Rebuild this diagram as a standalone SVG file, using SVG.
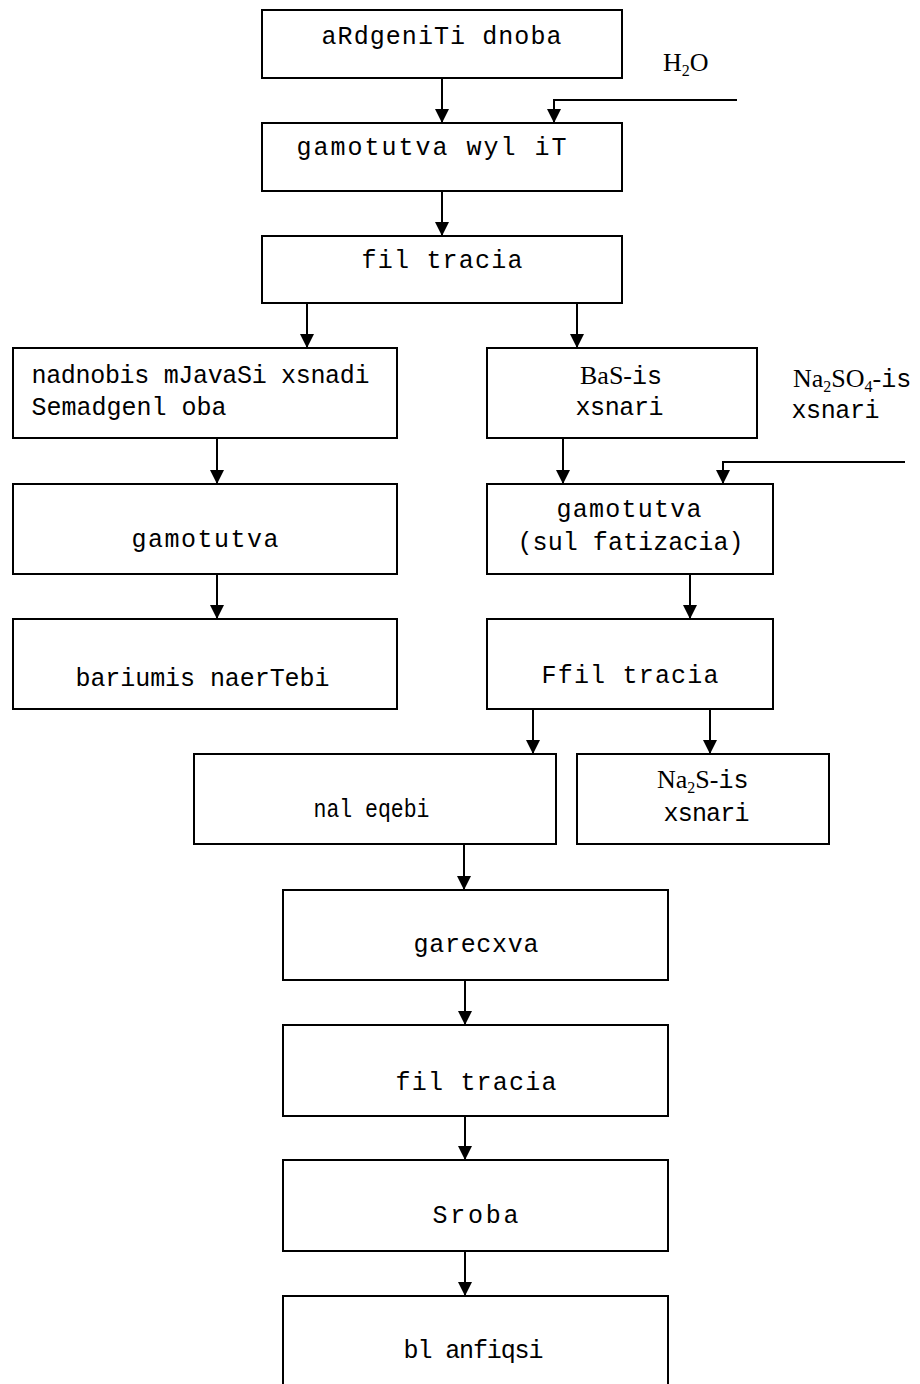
<svg xmlns="http://www.w3.org/2000/svg" width="920" height="1384" viewBox="0 0 920 1384">
<style>
.box{fill:#fff;stroke:#000;stroke-width:2}
.t{font-family:"Liberation Mono","DejaVu Sans Mono",monospace;font-size:25px;fill:#000}
.s{font-family:"Liberation Serif","Times New Roman",serif;font-size:26px;fill:#000}
.sub{font-size:16px}
.m{font-family:"Liberation Mono","DejaVu Sans Mono",monospace;font-size:25px}
.c{fill:none;stroke:#000;stroke-width:2}
</style>
<defs>
<marker id="ah" markerUnits="userSpaceOnUse" markerWidth="14" markerHeight="14" refX="14" refY="7" orient="auto">
<path d="M0,0 L14,7 L0,14 z" fill="#000"/>
</marker>
</defs>
<rect width="920" height="1384" fill="#fff"/>
<g id="connectors">
<line class="c" x1="442" y1="78" x2="442" y2="123" marker-end="url(#ah)"/>
<polyline class="c" points="737,100 554,100 554,123" marker-end="url(#ah)"/>
<line class="c" x1="442" y1="191" x2="442" y2="236" marker-end="url(#ah)"/>
<line class="c" x1="307" y1="303" x2="307" y2="348" marker-end="url(#ah)"/>
<line class="c" x1="577" y1="303" x2="577" y2="348" marker-end="url(#ah)"/>
<line class="c" x1="217" y1="438" x2="217" y2="484" marker-end="url(#ah)"/>
<line class="c" x1="563" y1="438" x2="563" y2="484" marker-end="url(#ah)"/>
<polyline class="c" points="905,462 723,462 723,484" marker-end="url(#ah)"/>
<line class="c" x1="217" y1="574" x2="217" y2="619" marker-end="url(#ah)"/>
<line class="c" x1="690" y1="574" x2="690" y2="619" marker-end="url(#ah)"/>
<line class="c" x1="533" y1="709" x2="533" y2="754" marker-end="url(#ah)"/>
<line class="c" x1="710" y1="709" x2="710" y2="754" marker-end="url(#ah)"/>
<line class="c" x1="464" y1="844" x2="464" y2="890" marker-end="url(#ah)"/>
<line class="c" x1="465" y1="980" x2="465" y2="1025" marker-end="url(#ah)"/>
<line class="c" x1="465" y1="1116" x2="465" y2="1160" marker-end="url(#ah)"/>
<line class="c" x1="465" y1="1251" x2="465" y2="1296" marker-end="url(#ah)"/>
</g>
<g id="n1"><rect class="box" x="262" y="10" width="360" height="68"/><text class="t" x="321.5" y="44" textLength="240">aRdgeniTi dnoba</text></g>
<g id="h2o"><text class="s" x="663" y="71">H<tspan class="sub" dy="5">2</tspan><tspan dy="-5">O</tspan></text></g>
<g id="n2"><rect class="box" x="262" y="123" width="360" height="68"/><text class="t" x="296.5" y="155" textLength="270">gamotutva wyl iT</text></g>
<g id="n3"><rect class="box" x="262" y="236" width="360" height="67"/><text class="t" x="361.5" y="268" textLength="161">fil tracia</text></g>
<g id="n4"><rect class="box" x="13" y="348" width="384" height="90"/><text class="t" x="31.5" y="383" textLength="338">nadnobis mJavaSi xsnadi</text><text class="t" x="31.5" y="415" textLength="195">Semadgenl oba</text></g>
<g id="n5"><rect class="box" x="487" y="348" width="270" height="90"/><text class="s" x="580" y="384">BaS-<tspan class="m">is</tspan></text><text class="t" x="575.5" y="415" textLength="88">xsnari</text></g>
<g id="na2so4"><text class="s" x="793" y="387">Na<tspan class="sub" dy="5">2</tspan><tspan dy="-5">SO</tspan><tspan class="sub" dy="5">4</tspan><tspan dy="-5">-</tspan><tspan class="m">is</tspan></text><text class="t" x="791.5" y="418" textLength="88">xsnari</text></g>
<g id="n6"><rect class="box" x="13" y="484" width="384" height="90"/><text class="t" x="131.5" y="547" textLength="147">gamotutva</text></g>
<g id="n7"><rect class="box" x="487" y="484" width="286" height="90"/><text class="t" x="556.5" y="517" textLength="145">gamotutva</text><text class="t" x="517.5" y="550" textLength="226">(sul fatizacia)</text></g>
<g id="n8"><rect class="box" x="13" y="619" width="384" height="90"/><text class="t" x="75.5" y="686" textLength="254">bariumis naerTebi</text></g>
<g id="n9"><rect class="box" x="487" y="619" width="286" height="90"/><text class="t" x="541.5" y="683" textLength="177">Ffil tracia</text></g>
<g id="n10"><rect class="box" x="194" y="754" width="362" height="90"/><text class="t" x="313.5" y="817" textLength="116" lengthAdjust="spacingAndGlyphs">nal eqebi</text></g>
<g id="n11"><rect class="box" x="577" y="754" width="252" height="90"/><text class="s" x="657" y="788">Na<tspan class="sub" dy="5">2</tspan><tspan dy="-5">S-</tspan><tspan class="m">is</tspan></text><text class="t" x="663.5" y="821" textLength="86">xsnari</text></g>
<g id="n12"><rect class="box" x="283" y="890" width="385" height="90"/><text class="t" x="413.5" y="952" textLength="125">garecxva</text></g>
<g id="n13"><rect class="box" x="283" y="1025" width="385" height="91"/><text class="t" x="395.5" y="1090" textLength="161">fil tracia</text></g>
<g id="n14"><rect class="box" x="283" y="1160" width="385" height="91"/><text class="t" x="432.5" y="1223" textLength="86">Sroba</text></g>
<g id="n15"><rect class="box" x="283" y="1296" width="385" height="100"/><text class="t" x="403.5" y="1358" textLength="140">bl anfiqsi</text></g>
</svg>
